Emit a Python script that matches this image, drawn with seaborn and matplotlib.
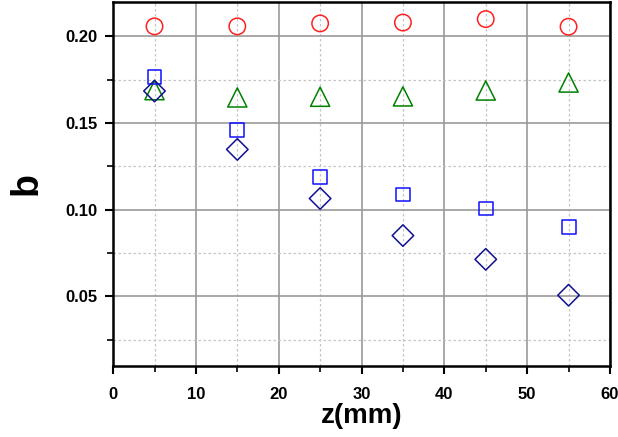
import matplotlib
matplotlib.use("Agg")
import matplotlib.pyplot as plt
from matplotlib.ticker import MultipleLocator, FormatStrFormatter
import numpy as np
import pandas as pd
import seaborn as sns

# Data
z_mm = [5, 15, 25, 35, 45, 55]
b_circle = [0.2058, 0.2058, 0.2075, 0.2080, 0.2100, 0.2056]
b_triangle = [0.1690, 0.1648, 0.1652, 0.1654, 0.1688, 0.1734]
b_square = [0.1766, 0.1460, 0.1190, 0.1088, 0.1007, 0.0903]
b_diamond = [0.1685, 0.1348, 0.1065, 0.0851, 0.0714, 0.0507]

series_names = ["circle", "triangle", "square", "diamond"]
series_values = [b_circle, b_triangle, b_square, b_diamond]

df = pd.DataFrame({
    "z": np.tile(z_mm, len(series_names)),
    "b": np.concatenate(series_values),
    "series": np.repeat(series_names, len(z_mm)),
})

sns.set_style("white")
plt.rcParams["font.family"] = ["Liberation Sans", "DejaVu Sans"]
plt.rcParams["text.color"] = "black"
plt.rcParams["axes.labelcolor"] = "black"
plt.rcParams["xtick.color"] = "black"
plt.rcParams["ytick.color"] = "black"

fig = plt.figure(figsize=(6.18, 4.37), dpi=100)
ax = fig.add_axes([0.183, 0.163, 0.804, 0.833])

colors = {"circle": "#ff2020", "triangle": "#008000",
          "square": "#1010ff", "diamond": "#101090"}
markers = {"circle": "o", "triangle": "^", "square": "s", "diamond": "D"}
sizes = {"circle": 140, "triangle": 190, "square": 100, "diamond": 120}

for name in series_names:
    sub = df[df["series"] == name]
    sns.scatterplot(data=sub, x="z", y="b", marker=markers[name],
                    s=sizes[name], facecolors="none", edgecolor=colors[name],
                    linewidth=1.1, ax=ax, legend=False, zorder=3)

ax.set_xlim(0, 60)
ax.set_ylim(0.01, 0.22)
ax.xaxis.set_major_locator(MultipleLocator(10))
ax.xaxis.set_minor_locator(MultipleLocator(5))
ax.yaxis.set_major_locator(MultipleLocator(0.05))
ax.yaxis.set_minor_locator(MultipleLocator(0.025))
ax.yaxis.set_major_formatter(FormatStrFormatter("%.2f"))

ax.grid(which="major", color="#9a9a9a", linewidth=1.2, linestyle="-", zorder=0)
ax.grid(which="minor", color="#c4c4c4", linewidth=0.9, linestyle=(0, (2, 2)), zorder=0)
ax.set_axisbelow(True)

for side in ["left", "bottom", "top", "right"]:
    ax.spines[side].set_visible(True)
    ax.spines[side].set_color("black")
    ax.spines[side].set_linewidth(1.8)

ax.tick_params(axis="both", which="major", direction="out", length=6, width=1.5,
               labelsize=12, bottom=True, left=True)
ax.tick_params(axis="both", which="minor", direction="out", length=4, width=1.2,
               bottom=True, left=True)
ax.tick_params(axis="x", which="major", pad=9)
ax.tick_params(axis="y", which="major", pad=5)
for lab in ax.get_xticklabels() + ax.get_yticklabels():
    lab.set_fontweight("bold")

ax.set_xlabel("z(mm)", fontsize=20, fontweight="bold", labelpad=1)
ax.set_ylabel("b", fontsize=27, fontweight="bold", labelpad=15)

fig.savefig("out.png", dpi=100)
